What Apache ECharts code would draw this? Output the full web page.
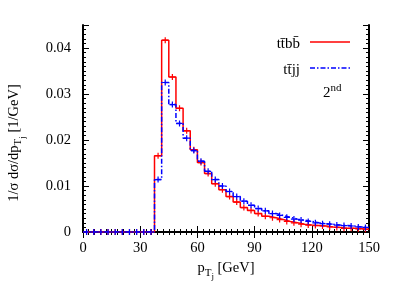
<!DOCTYPE html>
<html><head><meta charset="utf-8">
<script src="https://cdn.jsdelivr.net/npm/echarts@6/dist/echarts.min.js"></script>
<style>html,body{margin:0;padding:0;background:#fff}#c{width:407px;height:285px}</style>
</head><body><div id="c"></div>
<script>
const binWidth = 3.75;
const binLow = [0,3.75,7.5,11.25,15,18.75,22.5,26.25,30,33.75,37.5,41.25,45,48.75,52.5,56.25,60,63.75,67.5,71.25,75,78.75,82.5,86.25,90,93.75,97.5,101.25,105,108.75,112.5,116.25,120,123.75,127.5,131.25,135,138.75,142.5,146.25];
const ttbb = [0,0,0,0,0,0,0,0,0,0,0.0166,0.0417,0.0337,0.0269,0.0220,0.0179,0.0151,0.0127,0.0105,0.0092,0.0077,0.0065,0.0053,0.0047,0.0040,0.0034,0.0031,0.0027,0.0023,0.0020,0.0017,0.0015,0.0014,0.0013,0.0011,0.0010,0.0008,0.0008,0.0007,0.0006];
const ttjj = [0,0,0,0,0,0,0,0,0,0,0.0114,0.0325,0.0277,0.0236,0.0204,0.0177,0.0154,0.0132,0.0114,0.0100,0.0088,0.0077,0.0067,0.0058,0.0051,0.0046,0.0040,0.0036,0.0032,0.0028,0.0026,0.0023,0.0020,0.0018,0.0017,0.0015,0.0014,0.0013,0.0011,0.0010];
const xTicks = [0,30,60,90,120,150];
const yTicks = [0,0.01,0.02,0.03,0.04];

const FONT = 'Liberation Serif';
const RED = '#ff0000', BLUE = '#0000ff';
const plus = 'path://M0,4H4V0H6V4H10V6H6V10H4V6H0Z';

function stepData(vals){
  const d = binLow.map((x,i)=>[x, vals[i]]);
  d.push([binLow[binLow.length-1]+binWidth, vals[vals.length-1]]);
  return d;
}
function centerData(vals){ return binLow.map((x,i)=>[x+binWidth/2, vals[i]]); }

const chart = echarts.init(document.getElementById('c'), null, {renderer:'canvas'});
const axLine = {show:true, lineStyle:{color:'#000', width:2}};
function xAx(pos, labels){
  return {type:'value', position:pos, min:0, max:150, interval:30,
    axisLine:axLine, splitLine:{show:false},
    axisTick:{show:true, inside:true, length:6, lineStyle:{color:'#000', width:1}},
    minorTick:{show:true, splitNumber:10, length:3, lineStyle:{color:'#000', width:1}},
    axisLabel:{show:labels, color:'#000', fontFamily:FONT, fontSize:14.5, margin:9,
      formatter:(v)=> xTicks.includes(v) ? String(v) : ''},
    name: labels ? '{a|p}{s|T}{ss|j}{a| [GeV]}' : '', nameLocation:'middle', nameGap:21,
    nameTextStyle:{rich:{
      a:{fontFamily:FONT, fontSize:14.5, color:'#000'},
      s:{fontFamily:FONT, fontSize:11, color:'#000', padding:[9,0,0,0]},
      ss:{fontFamily:FONT, fontSize:9, color:'#000', padding:[17,0,0,0]}
    }}
  };
}
function yAx(pos, major, labels){
  return {type:'value', position:pos, min:0, max:0.045, interval: major?0.01:0.001,
    axisLine: major ? axLine : {show:false}, splitLine:{show:false},
    axisTick:{show:true, inside:true, length: major?6:3, lineStyle:{color:'#000', width:1}},
    axisLabel:{show:labels, color:'#000', fontFamily:FONT, fontSize:14.5, margin:12,
      formatter:(v)=> yTicks.some(t=>Math.abs(t-v)<1e-9) ? (v===0?'0':v.toFixed(2)) : ''}
  };
}

chart.setOption({
  animation:false,
  backgroundColor:'#fff',
  grid:{left:83, right:38, top:25, bottom:53, containLabel:false, outerBoundsMode:'none'},
  xAxis:[xAx('bottom', true), xAx('top', false)],
  yAxis:[yAx('left', true, true), yAx('left', false, false), yAx('right', true, false), yAx('right', false, false)],
  series:[
    {type:'line', step:'end', data:stepData(ttbb), showSymbol:false, symbol:'none',
      lineStyle:{color:RED, width:1.5}, z:2},
    {type:'scatter', data:centerData(ttbb), symbol:plus, symbolSize:[6,6],
      itemStyle:{color:RED, opacity:1}, z:3},
    {type:'line', step:'end', data:stepData(ttjj), showSymbol:false, symbol:'none',
      lineStyle:{color:BLUE, width:1.5, type:[5,2,1.5,2]}, z:4},
    {type:'scatter', data:centerData(ttjj), symbol:plus, symbolSize:[6,6],
      itemStyle:{color:BLUE, opacity:1}, z:5}
  ],
  graphic:[
    {type:'text', x:14, y:143, rotation:Math.PI/2, style:{
      text:'{a|1/σ dσ/dp}{s|T}{ss|j}{a| [1/GeV]}', align:'center', verticalAlign:'middle',
      rich:{
        a:{fontFamily:FONT, fontSize:14.5, fill:'#000'},
        s:{fontFamily:FONT, fontSize:11, fill:'#000', padding:[9,0,0,0]},
        ss:{fontFamily:FONT, fontSize:9, fill:'#000', padding:[17,0,0,0]}
      }}},
    {type:'text', x:300, y:44, style:{text:'tt\u0304bb\u0304', align:'right', verticalAlign:'middle', font:'15px "Liberation Serif"', fill:'#000'}},
    {type:'line', shape:{x1:310, y1:42, x2:350, y2:42}, style:{stroke:RED, lineWidth:1.5}},
    {type:'text', x:300, y:70, style:{text:'tt\u0304jj', align:'right', verticalAlign:'middle', font:'15px "Liberation Serif"', fill:'#000'}},
    {type:'line', shape:{x1:310, y1:68, x2:350, y2:68}, style:{stroke:BLUE, lineWidth:1.5, lineDash:[5,2,1.5,2]}},
    {type:'text', x:323, y:93, style:{text:'{a|2}{b|nd}', verticalAlign:'middle',
      rich:{a:{fontFamily:FONT, fontSize:15, fill:'#000'}, b:{fontFamily:FONT, fontSize:11, fill:'#000', padding:[0,0,10,0]}}}}
  ]
});
</script></body></html>
